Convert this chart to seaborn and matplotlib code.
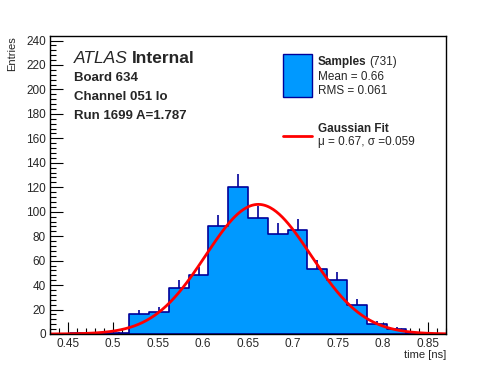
import numpy as np
import pandas as pd
import seaborn as sns
import matplotlib
matplotlib.use("Agg")
import matplotlib.pyplot as plt
from matplotlib.patches import Rectangle
from matplotlib.lines import Line2D
from matplotlib.ticker import MultipleLocator

# Histogram: 20 bins from 0.43 to 0.87 ns
bin_edges = np.linspace(0.43, 0.87, 21)
counts = [0, 1, 1, 1, 16, 18, 38, 48, 88, 120, 95, 82, 85, 53, 44, 24, 8, 4, 1, 0]

# Gaussian fit parameters (as drawn)
fit_const = 106.0
fit_mu = 0.6615
fit_sigma = 0.0585

fill_col = "#0099ff"
edge_col = "#000099"

sns.set_style("ticks")
plt.rcParams["font.family"] = ["Liberation Sans", "DejaVu Sans"]

fig = plt.figure(figsize=(4.96, 3.72), dpi=100)
ax = fig.add_axes([50 / 496, 1 - 334 / 372, 396 / 496, 298 / 372])

centers = 0.5 * (bin_edges[:-1] + bin_edges[1:])
df = pd.DataFrame({"t": centers, "n": counts})
sns.histplot(data=df, x="t", weights="n", bins=list(bin_edges), element="step", fill=True,
             facecolor=fill_col, edgecolor=edge_col, alpha=1, linewidth=1.2, ax=ax)

# error bars (upper half visible above the fill)
c = np.array(counts, dtype=float)
m = c > 0
ax.vlines(centers[m], c[m], c[m] + np.sqrt(c[m]), color=edge_col, linewidth=1.2)

# fit curve
xf = np.linspace(0.43, 0.87, 400)
yf = fit_const * np.exp(-0.5 * ((xf - fit_mu) / fit_sigma) ** 2)
sns.lineplot(x=xf, y=yf, color="red", linewidth=2, ax=ax)

ax.set_xlim(0.43, 0.87)
ax.set_ylim(0, 243.7)
ax.set_xlabel("")
ax.set_ylabel("")

ax.xaxis.set_minor_locator(MultipleLocator(0.01))
ax.yaxis.set_major_locator(MultipleLocator(20))
ax.yaxis.set_minor_locator(MultipleLocator(4))
ax.set_xticks([0.45, 0.5, 0.55, 0.6, 0.65, 0.7, 0.75, 0.8, 0.85])
ax.set_xticklabels(["0.45", "0.5", "0.55", "0.6", "0.65", "0.7", "0.75", "0.8", "0.85"])
ax.tick_params(axis="both", which="both", direction="in", top=False, right=False,
               labelsize=8.5, width=0.8, color="black")
ax.tick_params(axis="x", which="major", length=9, pad=3)
ax.tick_params(axis="x", which="minor", length=4.5)
ax.tick_params(axis="y", which="major", length=9, pad=3)
ax.tick_params(axis="y", which="minor", length=4.5)
for s in ax.spines.values():
    s.set_visible(True)
    s.set_linewidth(1)
    s.set_color("black")


def px(x, y):
    return x / 496, 1 - y / 372


fig.text(*px(12, 36), "Entries", rotation=90, ha="center", va="top", fontsize=8)
fig.text(*px(446, 355), "time [ns]", ha="right", va="center", fontsize=8)

# ATLAS label block
t = fig.text(*px(74, 63), "ATLAS", fontsize=12.5, style="italic", ha="left", va="baseline")
fig.canvas.draw()
bb = t.get_window_extent()
fig.text((bb.x1 + 4) / 496, 1 - 63 / 372, "Internal", fontsize=12.5, weight="bold",
         ha="left", va="baseline")
fig.text(*px(74, 81), "Board 634", fontsize=9.5, weight="bold", va="baseline")
fig.text(*px(74, 100), "Channel 051 lo", fontsize=9.5, weight="bold", va="baseline")
fig.text(*px(74, 119), "Run 1699 A=1.787", fontsize=9.5, weight="bold", va="baseline")

# legend
x0, y0 = px(283, 97)
x1, y1 = px(311.5, 53.5)
fig.patches.append(Rectangle((x0, y0), x1 - x0, y1 - y0, transform=fig.transFigure,
                             facecolor=fill_col, edgecolor=edge_col, linewidth=1))
t2 = fig.text(*px(318, 62), "Samples", fontsize=8.5, weight="bold", va="center")
fig.canvas.draw()
bb = t2.get_window_extent()
fig.text((bb.x1 + 3) / 496, 1 - 62 / 372, "(731)", fontsize=8.5, va="center")
fig.text(*px(318, 76.5), "Mean = 0.66", fontsize=8.5, va="center")
fig.text(*px(318, 90.5), "RMS = 0.061", fontsize=8.5, va="center")

lx0, ly = px(283, 136)
lx1, _ = px(311.5, 136)
fig.lines.append(Line2D([lx0, lx1], [ly, ly], transform=fig.transFigure,
                        color="red", linewidth=2))
fig.text(*px(318, 129.5), "Gaussian Fit", fontsize=8.5, weight="bold", va="center")
fig.text(*px(318, 142), "μ = 0.67, σ =0.059", fontsize=8.5, va="center")

fig.savefig("out.png", dpi=100)
